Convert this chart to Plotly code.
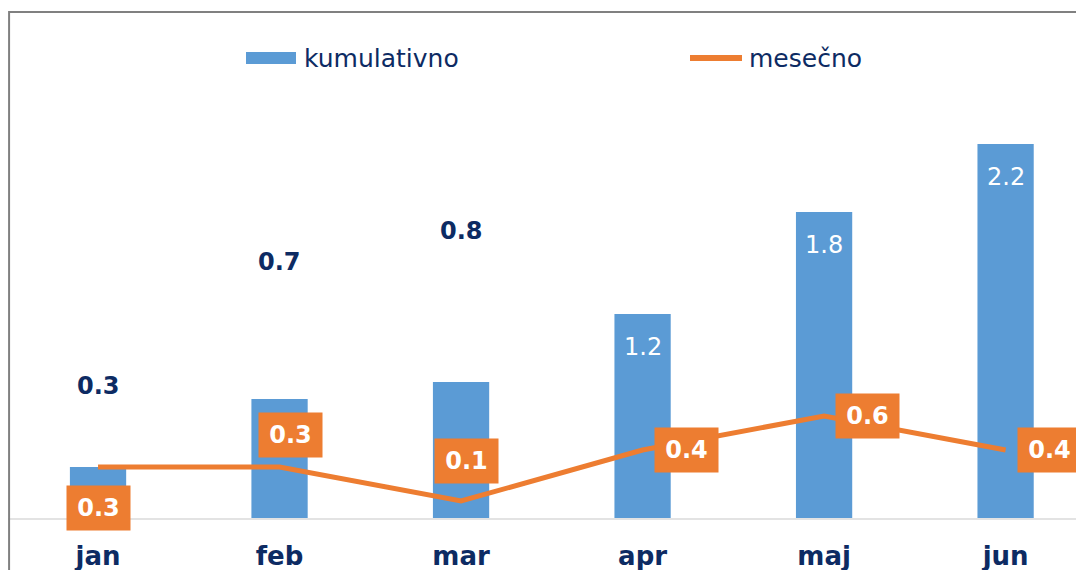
import plotly.graph_objects as go

months = ["jan", "feb", "mar", "apr", "maj", "jun"]
kumulativno = [0.3, 0.7, 0.8, 1.2, 1.8, 2.2]
mesecno = [0.3, 0.3, 0.1, 0.4, 0.6, 0.4]

NAVY = "#0D2B63"
BLUE = "#5B9BD5"
ORANGE = "#ED7D31"
FONT = "DejaVu Sans"

# label placement styles (pixel offsets)
bar_label_shift = [81, 137, 151, -33, -33, -33]
bar_label_inside = [False, False, False, True, True, True]
line_label_shift = [(0, -41), (11, 32), (5, 40), (44, 0), (43, 0), (44, 0)]

fig = go.Figure()
fig.add_trace(go.Bar(
    x=months, y=kumulativno, name="kumulativno",
    marker=dict(color=BLUE, line=dict(width=0)),
    width=0.31, showlegend=False, hoverinfo="x+y",
))
fig.add_trace(go.Scatter(
    x=months, y=mesecno, name="mesečno", mode="lines",
    line=dict(color=ORANGE, width=5), showlegend=False,
))

annotations = []
for m, v, s, inside in zip(months, kumulativno, bar_label_shift, bar_label_inside):
    annotations.append(dict(
        x=m, y=v, yshift=s, text=f"{v:.1f}", showarrow=False,
        xanchor="center", yanchor="middle",
        font=dict(family=FONT, size=24, color="white" if inside else NAVY,
                  weight="normal" if inside else "bold"),
    ))
for m, v, (dx, dy) in zip(months, mesecno, line_label_shift):
    annotations.append(dict(
        x=m, y=v, xshift=dx, yshift=dy, text=f"{v:.1f}", showarrow=False,
        xanchor="center", yanchor="middle",
        bgcolor=ORANGE, borderpad=6, width=51, height=32,
        font=dict(family=FONT, size=24, color="white", weight="bold"),
    ))

# plot area: 1084 wide, 506 tall (paper coords)
PW, PH = 1084.0, 506.0
def px(x):
    return x / PW
def py(y):
    return (510.0 - y) / PH

# legend (manual, to match wide swatches)
annotations.append(dict(xref="paper", yref="paper", x=px(294), y=py(50),
                        text="kumulativno", showarrow=False, xanchor="left",
                        yanchor="middle", font=dict(family=FONT, size=25, color=NAVY)))
annotations.append(dict(xref="paper", yref="paper", x=px(739), y=py(50),
                        text="mesečno", showarrow=False, xanchor="left",
                        yanchor="middle", font=dict(family=FONT, size=25, color=NAVY)))

shapes = [
    dict(type="rect", xref="paper", yref="paper", x0=px(238), x1=px(288),
         y0=py(56), y1=py(44), fillcolor=BLUE, line=dict(width=0)),
    dict(type="line", xref="paper", yref="paper", x0=px(682), x1=px(734),
         y0=py(50), y1=py(50), line=dict(color=ORANGE, width=6)),
    dict(type="rect", xref="paper", yref="paper", x0=0.001, x1=1.3,
         y0=-0.5, y1=py(4), line=dict(color="#808080", width=2), layer="above"),
]

fig.update_layout(
    width=1084, height=570,
    margin=dict(l=0, r=0, t=4, b=60),
    paper_bgcolor="white", plot_bgcolor="white",
    annotations=annotations, shapes=shapes,
    showlegend=False,
)
fig.update_xaxes(
    range=[-0.496, 5.476], showgrid=False, zeroline=False,
    showline=True, linecolor="#E3E3E3", linewidth=2,
    ticks="", ticklabelstandoff=14, automargin=False,
    tickfont=dict(family=FONT, size=26, color=NAVY, weight="bold"),
)
fig.update_yaxes(range=[0, 2.976], visible=False, showgrid=False, zeroline=False)

fig.write_html("out.html")
